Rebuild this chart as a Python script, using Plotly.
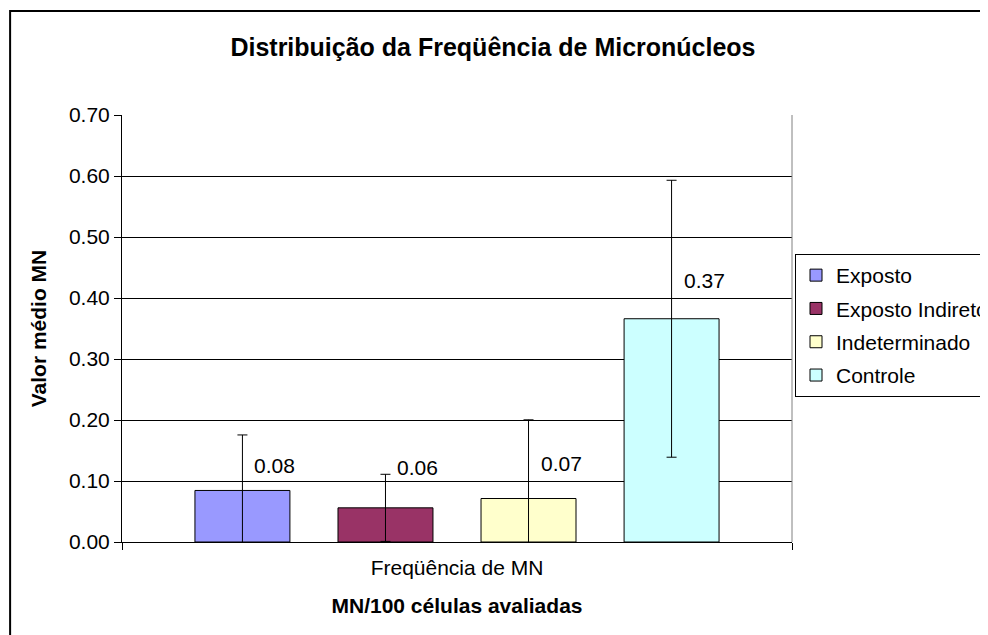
import plotly.graph_objects as go

# dados
categoria = 'Freqüência de MN'
grupos = ['Exposto', 'Exposto Indireto', 'Indeterminado', 'Controle']
medias = [0.0845, 0.056, 0.0713, 0.366]
desvios = [0.091, 0.055, 0.129, 0.227]
rotulos = ['0.08', '0.06', '0.07', '0.37']

cores = ['#9999FF', '#993366', '#FFFFCC', '#CCFFFF']
label_yshift = [25, 40, 35, 38]

FONT = 'Liberation Sans, Arial, sans-serif'
BARGAP = 0.146
BARGROUPGAP = 0.336

# a figura é mais larga que a janela: a legenda fica cortada à direita, como no original
FIG_W, FIG_H = 1000, 635


def build_figure():
    fig = go.Figure()
    for i, nome in enumerate(grupos):
        fig.add_trace(
            go.Bar(
                x=[categoria],
                y=[medias[i]],
                name=nome,
                legendgroup=nome,
                marker=dict(color=cores[i], line=dict(color='black', width=1)),
                error_y=dict(
                    type='data', array=[desvios[i]], visible=True,
                    color='black', thickness=1, width=5,
                ),
                hoverinfo='skip',
            )
        )

    # rótulos de valor, deslocados à direita da barra de erro
    slot = (1 - BARGAP) / len(grupos)
    for i, txt in enumerate(rotulos):
        fig.add_annotation(
            x=(i - (len(grupos) - 1) / 2) * slot,
            y=medias[i],
            xref='x', yref='y',
            text=txt,
            showarrow=False,
            xanchor='left', yanchor='middle',
            xshift=10, yshift=label_yshift[i],
            font=dict(family=FONT, size=21, color='black'),
        )

    fig.update_layout(
        width=FIG_W,
        height=FIG_H,
        margin=dict(l=114, r=216, t=107, b=101),
        paper_bgcolor='white',
        plot_bgcolor='white',
        barmode='group',
        bargap=BARGAP,
        bargroupgap=BARGROUPGAP,
        font=dict(family=FONT, size=21, color='black'),
        title=dict(
            text='<b>Distribuição da Freqüência de Micronúcleos</b>',
            x=0.5537, xref='paper', xanchor='center',
            y=1 - 39 / FIG_H, yanchor='middle',
            font=dict(family=FONT, size=25, color='black'),
        ),
        legend=dict(
            x=1.0045, y=0.6745, xanchor='left', yanchor='top',
            bordercolor='black', borderwidth=1,
            bgcolor='white',
            tracegroupgap=3,
            font=dict(family=FONT, size=21, color='black'),
        ),
        showlegend=True,
    )

    fig.update_xaxes(
        type='category',
        tickson='boundaries',
        ticks='outside', ticklen=7, tickcolor='black',
        ticklabelstandoff=7,
        showline=True, linecolor='black', linewidth=1,
        showgrid=False,
        title=dict(text='<b>MN/100 células avaliadas</b>', standoff=20,
                   font=dict(family=FONT, size=21)),
    )
    fig.update_yaxes(
        range=[0, 0.7],
        dtick=0.1,
        tickformat='.2f',
        ticks='outside', ticklen=7, tickcolor='black',
        showline=True, linecolor='black', linewidth=1,
        showgrid=True, gridcolor='black', gridwidth=1,
        zeroline=False,
        title=dict(text='<b>Valor médio MN</b>', standoff=16,
                   font=dict(family=FONT, size=21)),
    )

    # borda cinza à direita da área de plotagem
    fig.add_shape(type='line', xref='paper', yref='paper',
                  x0=1, x1=1, y0=0, y1=1, line=dict(color='#808080', width=1))
    # moldura externa do gráfico (cortada à direita e embaixo)
    fig.add_shape(type='rect', xref='paper', yref='paper',
                  x0=-0.167, x1=1.4, y0=-0.4, y1=1.2436,
                  line=dict(color='black', width=2), layer='below')
    return fig


def main():
    fig = build_figure()
    fig.write_html('out.html')


if __name__ == '__main__':
    main()
